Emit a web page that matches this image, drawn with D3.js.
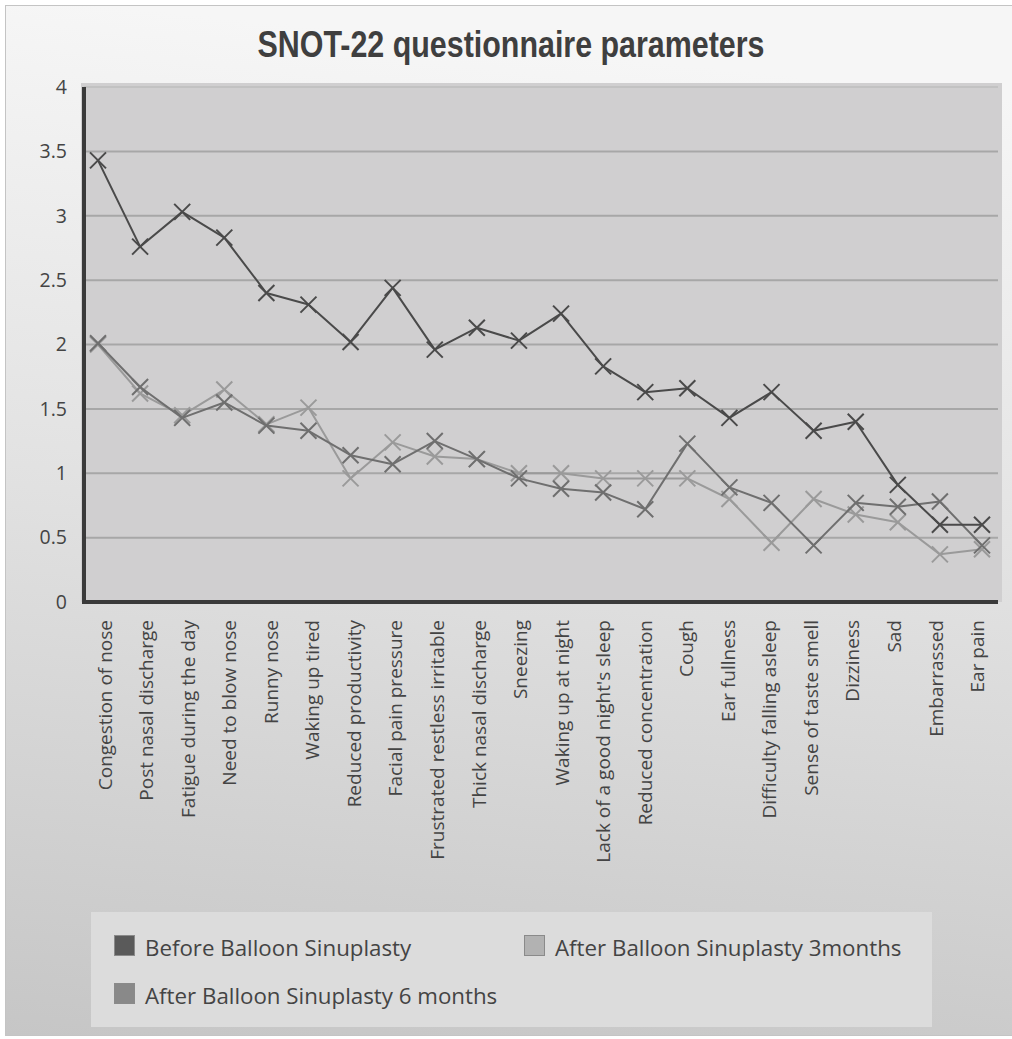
<!DOCTYPE html>
<html>
<head>
<meta charset="utf-8">
<script src="https://cdn.jsdelivr.net/npm/d3@7"></script>
<style>
  html, body { margin: 0; padding: 0; background: #ffffff; }
  svg { display: block; }
</style>
</head>
<body>
<script>
// SNOT-22 symptom scores before and after balloon sinuplasty
const categories = [
  "Congestion of nose", "Post nasal discharge", "Fatigue during the day", "Need to blow nose",
  "Runny nose", "Waking up tired", "Reduced productivity", "Facial pain pressure",
  "Frustrated restless irritable", "Thick nasal discharge", "Sneezing", "Waking up at night",
  "Lack of a good night's sleep", "Reduced concentration", "Cough", "Ear fullness",
  "Difficulty falling asleep", "Sense of taste smell", "Dizziness", "Sad", "Embarrassed", "Ear pain"
];
const before = [3.43, 2.76, 3.03, 2.83, 2.40, 2.31, 2.02, 2.44, 1.96, 2.13, 2.03, 2.24,
                 1.83, 1.63, 1.66, 1.43, 1.63, 1.33, 1.40, 0.91, 0.60, 0.60];
const after3 = [2.00, 1.62, 1.45, 1.65, 1.38, 1.51, 0.96, 1.24, 1.13, 1.11, 1.00, 1.00,
                0.96, 0.96, 0.96, 0.80, 0.46, 0.80, 0.68, 0.62, 0.37, 0.41];
const after6 = [2.01, 1.67, 1.43, 1.55, 1.37, 1.33, 1.14, 1.07, 1.25, 1.11, 0.96, 0.88,
                0.85, 0.72, 1.23, 0.89, 0.77, 0.44, 0.77, 0.74, 0.78, 0.44];
const yTicks = [0, 0.5, 1, 1.5, 2, 2.5, 3, 3.5, 4];
const seriesNames = ["Before Balloon Sinuplasty", "After Balloon Sinuplasty 3months", "After Balloon Sinuplasty 6 months"];

const W = 1012, H = 1039;
const font = "'Open Sans', 'Noto Sans', sans-serif";

const svg = d3.select("body").append("svg").attr("width", W).attr("height", H);
const defs = svg.append("defs");

const bg = defs.append("linearGradient").attr("id", "bgGrad")
  .attr("x1", "0.1").attr("y1", "0").attr("x2", "0").attr("y2", "1");
bg.append("stop").attr("offset", "0").attr("stop-color", "#f6f6f6");
bg.append("stop").attr("offset", "0.45").attr("stop-color", "#e2e2e2");
bg.append("stop").attr("offset", "1").attr("stop-color", "#c6c6c6");

// chart frame
svg.append("rect").attr("x", 5.5).attr("y", 5.5).attr("width", W - 5).attr("height", H - 9)
  .attr("fill", "url(#bgGrad)").attr("stroke", "#c4c4c4").attr("stroke-width", 1);

// title (condensed bold)
svg.append("text").attr("x", 511).attr("y", 57).attr("text-anchor", "middle")
  .attr("font-family", "'Liberation Sans Narrow', 'Arial Narrow', 'Liberation Sans', sans-serif")
  .attr("font-weight", "bold").attr("font-size", 37).attr("fill", "#3f3f3f")
  .attr("textLength", 507).attr("lengthAdjust", "spacingAndGlyphs")
  .text("SNOT-22 questionnaire parameters");

// scales
const y = d3.scaleLinear().domain([0, 4]).range([602, 87]);
const xMark = d3.scalePoint().domain(categories).range([98, 982]);
const xLabel = d3.scaleBand().domain(categories).range([84, 998]);

// plot area
svg.append("rect").attr("x", 81).attr("y", 83).attr("width", 921).attr("height", 519)
  .attr("fill", "#d0cfd0");

// horizontal gridlines
svg.append("g").selectAll("line").data(yTicks.filter(d => d > 0)).join("line")
  .attr("x1", 84).attr("x2", 998)
  .attr("y1", d => y(d)).attr("y2", d => y(d))
  .attr("stroke", d => d === 4 ? "#c2c2c2" : "#a7a7a7").attr("stroke-width", 2);

// y axis
const yAxis = svg.append("g").attr("transform", "translate(84,0)")
  .call(d3.axisLeft(y).tickValues(yTicks).tickSize(0).tickPadding(17).tickFormat(d3.format("")));
yAxis.select(".domain").remove();
yAxis.selectAll("text").attr("font-family", font).attr("font-size", 19.5).attr("fill", "#444");
svg.append("line").attr("x1", 84).attr("x2", 84).attr("y1", 87).attr("y2", 604)
  .attr("stroke", "#3a3a3a").attr("stroke-width", 4);

// x axis
const xAxis = svg.append("g").attr("transform", "translate(0,602)")
  .call(d3.axisBottom(xLabel).tickSize(0));
xAxis.select(".domain").remove();
xAxis.selectAll("text")
  .attr("font-family", font).attr("font-size", 19).attr("fill", "#444")
  .attr("text-anchor", "end")
  .attr("transform", "rotate(-90)")
  .attr("x", -18).attr("y", 0).attr("dy", "0.36em");
svg.append("line").attr("x1", 82).attr("x2", 998).attr("y1", 602).attr("y2", 602)
  .attr("stroke", "#3a3a3a").attr("stroke-width", 4);

// series
const series = [
  { name: seriesNames[1], values: after3, color: "#9a9a9a" },
  { name: seriesNames[2], values: after6, color: "#6f6f6f" },
  { name: seriesNames[0], values: before, color: "#4a4a4a" }
];
const line = d3.line().x((d, i) => xMark(categories[i])).y(d => y(d));
const cross = "M-8,-8L8,8M-8,8L8,-8";

series.forEach(s => {
  const g = svg.append("g");
  g.append("path").attr("d", line(s.values)).attr("fill", "none")
    .attr("stroke", s.color).attr("stroke-width", 2).attr("stroke-linejoin", "round");
  g.selectAll("path.mk").data(s.values).join("path").attr("class", "mk")
    .attr("transform", (d, i) => `translate(${xMark(categories[i])},${y(d)})`)
    .attr("d", cross).attr("stroke", s.color).attr("stroke-width", 2).attr("fill", "none");
});

// legend
svg.append("rect").attr("x", 91).attr("y", 912).attr("width", 841).attr("height", 115)
  .attr("fill", "#dcdcdc");
const legendItems = [
  { name: seriesNames[0], fill: "#5a5a5a", x: 114, y: 935 },
  { name: seriesNames[1], fill: "#b2b2b2", x: 524, y: 935 },
  { name: seriesNames[2], fill: "#898989", x: 114, y: 983 }
];
const lg = svg.append("g").selectAll("g").data(legendItems).join("g")
  .attr("transform", d => `translate(${d.x},${d.y})`);
lg.append("rect").attr("x", 0.5).attr("y", 0.5).attr("width", 20).attr("height", 20)
  .attr("fill", d => d.fill).attr("stroke", "#8a8a8a").attr("stroke-width", 1);
lg.append("text").attr("x", 31).attr("y", 21)
  .attr("font-family", font).attr("font-size", 22.3).attr("fill", "#444")
  .text(d => d.name);
</script>
</body>
</html>
